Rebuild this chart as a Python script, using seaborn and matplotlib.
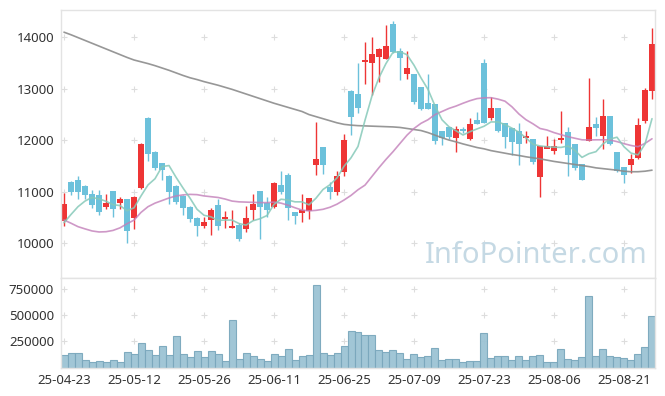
import numpy as np
import pandas as pd
import matplotlib
matplotlib.use("Agg")
import matplotlib.pyplot as plt
import seaborn as sns

dates = ["25-04-23", "25-04-24", "25-04-25", "25-04-28", "25-04-29", "25-04-30", "25-05-02", "25-05-07", "25-05-08", "25-05-09",
         "25-05-12", "25-05-13", "25-05-14", "25-05-15", "25-05-16", "25-05-19", "25-05-20", "25-05-21", "25-05-22", "25-05-23",
         "25-05-26", "25-05-27", "25-05-28", "25-05-29", "25-05-30", "25-06-02", "25-06-04", "25-06-05", "25-06-09", "25-06-10",
         "25-06-11", "25-06-12", "25-06-13", "25-06-16", "25-06-17", "25-06-18", "25-06-19", "25-06-20", "25-06-23", "25-06-24",
         "25-06-25", "25-06-26", "25-06-27", "25-06-30", "25-07-01", "25-07-02", "25-07-03", "25-07-04", "25-07-07", "25-07-08",
         "25-07-09", "25-07-10", "25-07-11", "25-07-14", "25-07-15", "25-07-16", "25-07-17", "25-07-18", "25-07-21", "25-07-22",
         "25-07-23", "25-07-24", "25-07-25", "25-07-28", "25-07-29", "25-07-30", "25-07-31", "25-08-01", "25-08-04", "25-08-05",
         "25-08-06", "25-08-07", "25-08-08", "25-08-11", "25-08-12", "25-08-13", "25-08-14", "25-08-18", "25-08-19", "25-08-20",
         "25-08-21", "25-08-22", "25-08-25", "25-08-26", "25-08-27"]

opens = [10440, 11190, 11230, 11110, 10950, 10940, 10700, 11015, 10785, 10860,
         10500, 11080, 12440, 11780, 11560, 11307, 11113, 10924, 10705, 10491,
         10336, 10453, 10744, 10472, 10303, 10355, 10284, 10647, 11016, 10788,
         10711, 11132, 11326, 10608, 10594, 10633, 11526, 11870, 11093, 11002,
         11390, 12958, 12894, 13527, 13496, 13612, 13573, 14259, 13734, 13288,
         13282, 13041, 12719, 12705, 12181, 12264, 12051, 12220, 12020, 12394,
         13500, 12427, 12633, 12330, 12245, 12181, 12051, 12020, 11282, 11825,
         11800, 12006, 12156, 11928, 11540, 11993, 12311, 12090, 12472, 11767,
         11488, 11521, 11662, 12375, 12964]
highs = [10980, 11210, 11300, 11125, 11035, 11035, 10950, 11020, 10895, 10870,
         10925, 11940, 12460, 11790, 11560, 11320, 11130, 10935, 10715, 10520,
         10505, 10680, 10854, 10633, 10647, 10388, 10730, 10952, 11016, 10905,
         11190, 11410, 11371, 10608, 10952, 10880, 12361, 11870, 11196, 11410,
         12117, 12977, 13496, 13903, 14000, 13793, 14239, 14317, 13787, 13740,
         13282, 13041, 13282, 12705, 12181, 12264, 12284, 12264, 12427, 12550,
         13573, 12835, 12633, 12330, 12245, 12330, 12181, 12020, 11895, 12090,
         12020, 12569, 12264, 11928, 11540, 13204, 12459, 12796, 12472, 11767,
         11488, 11728, 12427, 13010, 14175]
lows = [10340, 10940, 10855, 10865, 10680, 10550, 10665, 10515, 10660, 10010,
        10270, 11050, 11600, 11420, 11230, 10763, 10763, 10550, 10408, 10136,
        10303, 10160, 10258, 10303, 10303, 10050, 10214, 10452, 10078, 10505,
        10680, 10952, 10452, 10369, 10419, 10472, 11326, 11346, 10854, 10938,
        11307, 12103, 12525, 13088, 12880, 13138, 13573, 13700, 13180, 13185,
        12700, 12580, 12600, 11928, 11909, 12030, 11779, 12136, 12006, 12310,
        12342, 12394, 12170, 11850, 11715, 11521, 11942, 11534, 10905, 11850,
        11735, 11953, 11307, 11424, 11220, 11993, 12090, 11825, 11900, 11390,
        11177, 11359, 11640, 12342, 12796]
closes = [10760, 11000, 11000, 10945, 10750, 10615, 10777, 10665, 10860, 10245,
          10900, 11930, 11735, 11460, 11423, 11002, 10796, 10691, 10472, 10342,
          10419, 10647, 10336, 10517, 10336, 10084, 10491, 10763, 10711, 10647,
          11171, 10990, 10680, 10536, 10647, 10880, 11637, 11526, 11002, 11307,
          12006, 12459, 12633, 13546, 13676, 13773, 13832, 13721, 13593, 13398,
          12750, 12600, 12602, 11993, 12051, 12070, 12214, 12187, 12317, 12317,
          12330, 12633, 12187, 12058, 11973, 11928, 12084, 11573, 11895, 11895,
          11895, 12051, 11715, 11456, 11229, 12253, 12245, 12472, 11928, 11404,
          11326, 11631, 12297, 12977, 13870]
volumes = [120000, 136000, 136000, 72000, 50000, 62000, 50000, 72000, 50000, 146000,
           127000, 233000, 168000, 117000, 204000, 117000, 300000, 127000, 98000, 156000,
           98000, 156000, 127000, 62000, 454000, 79000, 136000, 108000, 79000, 60000,
           127000, 108000, 175000, 69000, 108000, 117000, 793000, 136000, 117000, 136000,
           204000, 348000, 338000, 310000, 310000, 168000, 146000, 165000, 136000, 79000,
           127000, 98000, 108000, 185000, 69000, 79000, 79000, 50000, 60000, 60000,
           329000, 88000, 108000, 108000, 69000, 108000, 69000, 108000, 117000, 50000,
           50000, 175000, 79000, 69000, 98000, 685000, 108000, 175000, 108000, 98000,
           88000, 69000, 127000, 194000, 492000]

# moving averages
ma5 = [10400, 10560, 10711, 10820, 10891, 10862, 10817, 10750, 10733, 10632,
       10689, 10920, 11134, 11254, 11490, 11510, 11283, 11074, 10877, 10661,
       10544, 10514, 10443, 10452, 10451, 10384, 10353, 10438, 10477, 10539,
       10757, 10856, 10840, 10805, 10805, 10747, 10876, 11045, 11138, 11270,
       11496, 11660, 11881, 12390, 12864, 13217, 13492, 13710, 13719, 13663,
       13459, 13212, 12989, 12669, 12399, 12263, 12186, 12103, 12168, 12221,
       12273, 12357, 12357, 12305, 12236, 12156, 12046, 11923, 11891, 11875,
       11868, 11862, 11890, 11802, 11669, 11741, 11780, 11931, 12025, 12060,
       11875, 11752, 11717, 11927, 12420]
ma20 = [10452, 10390, 10323, 10280, 10240, 10220, 10225, 10250, 10300, 10380,
        10450, 10600, 10711, 10780, 10830, 10880, 10919, 10940, 10950, 10945,
        10920, 10905, 10890, 10860, 10820, 10805, 10800, 10795, 10790, 10790,
        10800, 10780, 10740, 10690, 10645, 10630, 10640, 10660, 10700, 10760,
        10840, 10930, 11040, 11130, 11300, 11470, 11630, 11779, 11940, 12100,
        12230, 12330, 12400, 12500, 12560, 12620, 12665, 12720, 12770, 12810,
        12825, 12828, 12800, 12760, 12650, 12510, 12400, 12320, 12230, 12200,
        12150, 12110, 12070, 12040, 12010, 12006, 12010, 12010, 12006, 11975,
        11935, 11900, 11876, 11940, 12030]
ma120 = [14100, 14050, 13995, 13940, 13885, 13830, 13775, 13720, 13665, 13610,
         13560, 13525, 13490, 13450, 13405, 13360, 13310, 13260, 13215, 13180,
         13140, 13105, 13070, 13030, 12990, 12945, 12900, 12855, 12810, 12765,
         12720, 12680, 12640, 12600, 12560, 12500, 12460, 12420, 12380, 12340,
         12310, 12295, 12285, 12280, 12275, 12270, 12265, 12260, 12250, 12230,
         12210, 12190, 12150, 12100, 12050, 12005, 11970, 11930, 11895, 11860,
         11835, 11800, 11775, 11750, 11725, 11705, 11680, 11660, 11640, 11615,
         11590, 11570, 11550, 11530, 11510, 11490, 11465, 11450, 11435, 11420,
         11400, 11390, 11390, 11400, 11420]

price_ticks = [10000, 11000, 12000, 13000, 14000]
vol_ticks = [250000, 500000, 750000]

RED = "#ee3535"
BLUE = "#6cc1db"

sns.set_theme(style="white")
plt.rcParams["font.family"] = ["Noto Sans", "DejaVu Sans"]

df = pd.DataFrame({"open": opens, "high": highs, "low": lows, "close": closes, "volume": volumes,
                   "ma5": ma5, "ma20": ma20, "ma120": ma120})
df["i"] = np.arange(len(df))
colors = np.where(df["close"] >= df["open"], RED, BLUE)

fig = plt.figure(figsize=(6.65, 3.96), dpi=100)
ax = fig.add_axes([61 / 665, 1 - 278 / 396, 594 / 665, 268 / 396])
axv = fig.add_axes([61 / 665, 1 - 367.5 / 396, 594 / 665, 89.5 / 396])

# price panel
ax.vlines(df["i"], df["low"], df["high"], colors=colors, linewidth=1, zorder=2)
body_bottom = df[["open", "close"]].min(axis=1)
body_h = (df["close"] - df["open"]).abs().clip(lower=25)
ax.bar(df["i"], body_h, bottom=body_bottom, width=0.72, color=colors, linewidth=0, zorder=2)

sns.lineplot(data=df, x="i", y="ma120", ax=ax, color="#8c8c8c", linewidth=1.2, alpha=0.9, zorder=3)
sns.lineplot(data=df, x="i", y="ma20", ax=ax, color="#c27fb9", linewidth=1.2, alpha=0.8, zorder=3)
sns.lineplot(data=df, x="i", y="ma5", ax=ax, color="#86c9b9", linewidth=1.2, alpha=0.85, zorder=3)

ax.text(0.988, 0.085, "InfoPointer.com", transform=ax.transAxes, ha="right", va="center",
        fontsize=21, color="#c5d9e4", zorder=1)

xt = list(range(0, len(dates), 10))
gx, gy = np.meshgrid(xt, price_ticks)
ax.scatter(gx.ravel(), gy.ravel(), marker="+", s=22, color="#dddddd", linewidths=0.8, zorder=0)

ax.set_xlim(-0.43, 84.43)
ax.set_ylim(9326, 14531)
ax.set_yticks(price_ticks)
ax.set_yticklabels([str(t) for t in price_ticks])
ax.set_xticks([])
ax.set_xlabel("")
ax.set_ylabel("")

# volume panel
sns.barplot(data=df, x="i", y="volume", ax=axv, color="#9cc3d4", edgecolor="#7ba8bd",
            linewidth=0.8, width=1.0, saturation=1, alpha=0.95, zorder=2)
gx, gy = np.meshgrid(xt, vol_ticks)
axv.scatter(gx.ravel(), gy.ravel(), marker="+", s=22, color="#dddddd", linewidths=0.8, zorder=0)
axv.set_xlim(-0.43, 84.43)
axv.set_ylim(0, 860000)
axv.set_yticks(vol_ticks)
axv.set_yticklabels([str(t) for t in vol_ticks])
axv.set_xticks(xt)
axv.set_xticklabels([dates[k] for k in xt])
axv.set_xlabel("")
axv.set_ylabel("")

for a in (ax, axv):
    for s in a.spines.values():
        s.set_color("#e3e3e3")
        s.set_linewidth(1)
    a.tick_params(length=0, labelsize=9.5, colors="#333333")
    a.tick_params(axis="y", pad=5)
    a.tick_params(axis="x", pad=5)

fig.savefig("out.png", dpi=100)
